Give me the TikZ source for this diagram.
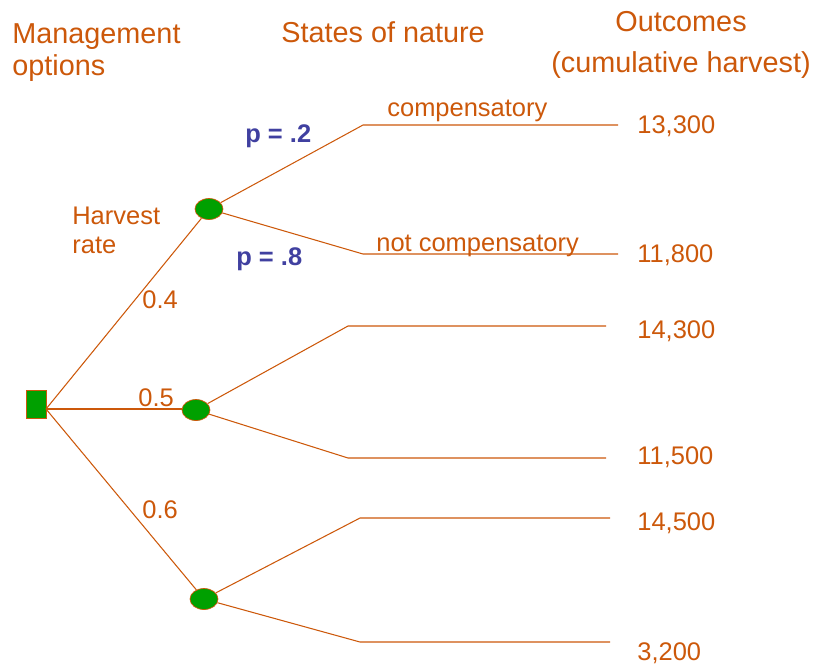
\documentclass[tikz,border=0pt]{standalone}
\usepackage{fontspec}
\setmainfont{Liberation Sans}
\usetikzlibrary{shapes.geometric}
\definecolor{rust}{RGB}{204,88,10}
\definecolor{leaf}{RGB}{0,160,0}
\definecolor{ink}{RGB}{64,64,160}
\tikzstyle{choice}=[rectangle,draw=rust,fill=leaf,minimum width=0.4cm,minimum height=0.56cm,inner sep=0]
\tikzstyle{chance}=[ellipse,draw=rust,fill=leaf,minimum width=0.56cm,minimum height=0.42cm,inner sep=0]
\tikzstyle{branch}=[draw=rust,line width=0.6pt]
\tikzstyle{lbl}=[text=rust,font=\fontsize{14.5}{17}\selectfont,inner sep=0]
\tikzstyle{head}=[text=rust,font=\fontsize{16.4}{19.4}\selectfont,inner sep=0]
\tikzstyle{prob}=[text=ink,font=\fontsize{14.5}{17}\selectfont\bfseries,inner sep=0]

\begin{document}
\begin{tikzpicture}[x=0.02cm,y=-0.02cm]
      \useasboundingbox (0,0) rectangle (814,664);
      % column headings
      \node [head,anchor=base west] (mgmt) at (12,43) {Management};
      \node [head,anchor=base west] (opts) at (12,75) {options};
      \node [head,anchor=base west] (states) at (281,42) {States of nature};
      \node [head,anchor=base] (outc) at (681,31) {Outcomes};
      \node [head,anchor=base] (cumh) at (681,72) {(cumulative harvest)};
      % decision and chance nodes
      \node [choice] (sq) at (36,404) {};
      \coordinate (root) at (46,409);
      \node [chance] (c1) at (209,209) {};
      \node [chance] (c2) at (196,410) {};
      \node [chance] (c3) at (204,599) {};
      % corners and ends of the outcome lines
      \coordinate (k1) at (363,125);  \coordinate (e1) at (618,125);
      \coordinate (k2) at (363,254);  \coordinate (e2) at (618,254);
      \coordinate (k3) at (348,326);  \coordinate (e3) at (606,326);
      \coordinate (k4) at (348,458);  \coordinate (e4) at (606,458);
      \coordinate (k5) at (360,518);  \coordinate (e5) at (610,518);
      \coordinate (k6) at (360,642);  \coordinate (e6) at (610,642);
      \draw [branch] (root) -- (c1);
      \draw [branch] (root) -- (c2.west |- root);
      \draw [branch] (root) -- (c3);
      \draw [branch] (c1) -- (k1) -- (e1);
      \draw [branch] (c1) -- (k2) -- (e2);
      \draw [branch] (c2) -- (k3) -- (e3);
      \draw [branch] (c2) -- (k4) -- (e4);
      \draw [branch] (c3) -- (k5) -- (e5);
      \draw [branch] (c3) -- (k6) -- (e6);
      % labels
      \node [lbl,anchor=base west] (hv) at (72,224) {Harvest};
      \node [lbl,anchor=base west] (rt) at (72,253) {rate};
      \node [lbl,anchor=base west] (r4) at (142,308) {0.4};
      \node [lbl,anchor=base west] (r5) at (138,406) {0.5};
      \node [lbl,anchor=base west] (r6) at (142,518) {0.6};
      \node [prob,anchor=base west] (p2) at (245,142) {p = .2};
      \node [prob,anchor=base west] (p8) at (236,265) {p = .8};
      \node [lbl,anchor=base west] (comp) at (387,116) {compensatory};
      \node [lbl,anchor=base west] (ncomp) at (376,251) {not compensatory};
      \node [lbl,anchor=base west] (o1) at (637,133) {13,300};
      \node [lbl,anchor=base west] (o2) at (637,262) {11,800};
      \node [lbl,anchor=base west] (o3) at (637,338) {14,300};
      \node [lbl,anchor=base west] (o4) at (637,464) {11,500};
      \node [lbl,anchor=base west] (o5) at (637,530) {14,500};
      \node [lbl,anchor=base west] (o6) at (637,660) {3,200};
\end{tikzpicture}
\end{document}
